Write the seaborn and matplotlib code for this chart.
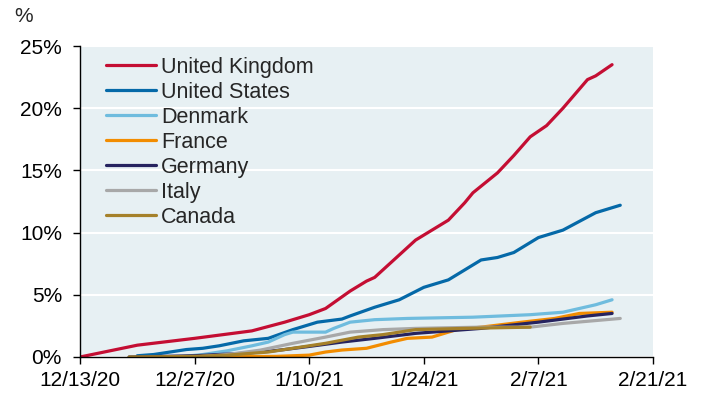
import matplotlib
matplotlib.use("Agg")
import matplotlib.pyplot as plt
import matplotlib.ticker as mticker
import seaborn as sns
import pandas as pd

# values (% of population)
uk_dates = ["2020-12-13", "2020-12-20", "2020-12-27", "2021-01-03", "2021-01-07", "2021-01-10",
            "2021-01-12", "2021-01-15", "2021-01-17", "2021-01-18", "2021-01-20", "2021-01-23",
            "2021-01-24", "2021-01-27", "2021-01-29", "2021-01-30", "2021-02-02", "2021-02-04",
            "2021-02-06", "2021-02-08", "2021-02-10", "2021-02-13", "2021-02-14", "2021-02-16"]
uk_vals = [0.0, 0.95, 1.5, 2.1, 2.8, 3.4, 3.9, 5.3, 6.1, 6.4, 7.6, 9.4,
           9.8, 11.0, 12.4, 13.2, 14.8, 16.2, 17.7, 18.6, 20.0, 22.3, 22.6, 23.5]

us_dates = ["2020-12-20", "2020-12-22", "2020-12-26", "2020-12-28", "2020-12-30", "2021-01-02",
            "2021-01-05", "2021-01-08", "2021-01-11", "2021-01-14", "2021-01-15", "2021-01-18",
            "2021-01-21", "2021-01-24", "2021-01-27", "2021-01-31", "2021-02-02", "2021-02-04",
            "2021-02-07", "2021-02-10", "2021-02-14", "2021-02-17"]
us_vals = [0.1, 0.2, 0.6, 0.7, 0.9, 1.3, 1.5, 2.2, 2.8, 3.05, 3.3, 4.0,
           4.6, 5.6, 6.2, 7.8, 8.0, 8.4, 9.6, 10.2, 11.6, 12.2]

dk_dates = ["2020-12-25", "2020-12-28", "2020-12-31", "2021-01-03", "2021-01-05", "2021-01-07",
            "2021-01-08", "2021-01-12", "2021-01-13", "2021-01-15", "2021-01-18", "2021-01-22",
            "2021-01-30", "2021-02-06", "2021-02-10", "2021-02-12", "2021-02-14", "2021-02-16"]
dk_vals = [0.0, 0.2, 0.5, 0.9, 1.2, 1.8, 2.0, 2.0, 2.3, 2.8, 3.0, 3.1,
           3.2, 3.4, 3.6, 3.9, 4.2, 4.6]

fr_dates = ["2020-12-27", "2021-01-06", "2021-01-10", "2021-01-12", "2021-01-14", "2021-01-17",
            "2021-01-20", "2021-01-22", "2021-01-25", "2021-01-28", "2021-01-31", "2021-02-05",
            "2021-02-09", "2021-02-12", "2021-02-16"]
fr_vals = [0.0, 0.05, 0.15, 0.4, 0.56, 0.7, 1.2, 1.5, 1.6, 2.2, 2.4, 2.8, 3.1, 3.5, 3.6]

de_dates = ["2020-12-19", "2020-12-27", "2021-01-02", "2021-01-05", "2021-01-07", "2021-01-10",
            "2021-01-14", "2021-01-18", "2021-01-23", "2021-01-31", "2021-02-07", "2021-02-13",
            "2021-02-16"]
de_vals = [0.0, 0.1, 0.3, 0.45, 0.6, 0.85, 1.2, 1.5, 1.9, 2.3, 2.8, 3.3, 3.5]

it_dates = ["2020-12-27", "2020-12-31", "2021-01-04", "2021-01-08", "2021-01-12", "2021-01-15",
            "2021-01-19", "2021-01-23", "2021-01-31", "2021-02-06", "2021-02-10", "2021-02-17"]
it_vals = [0.0, 0.2, 0.55, 1.1, 1.6, 2.0, 2.2, 2.3, 2.4, 2.4, 2.7, 3.1]

ca_dates = ["2020-12-19", "2020-12-27", "2020-12-31", "2021-01-05", "2021-01-08", "2021-01-12",
            "2021-01-16", "2021-01-19", "2021-01-23", "2021-01-29", "2021-02-06"]
ca_vals = [0.0, 0.05, 0.15, 0.4, 0.7, 1.1, 1.6, 1.8, 2.2, 2.3, 2.4]

countries = ["United Kingdom", "United States", "Denmark", "France", "Germany", "Italy", "Canada"]
colors = ["#C40E33", "#0569A8", "#6FBCDE", "#F28C00", "#26235F", "#A8A8A8", "#A5812A"]
tick_dates = ["2020-12-13", "2020-12-27", "2021-01-10", "2021-01-24", "2021-02-07", "2021-02-21"]
tick_labels = ["12/13/20", "12/27/20", "1/10/21", "1/24/21", "2/7/21", "2/21/21"]

series = [(uk_dates, uk_vals), (us_dates, us_vals), (dk_dates, dk_vals), (fr_dates, fr_vals),
          (de_dates, de_vals), (it_dates, it_vals), (ca_dates, ca_vals)]
frames = []
for name, (d, v) in zip(countries, series):
    frames.append(pd.DataFrame({"date": pd.to_datetime(d), "value": v, "country": name}))
df = pd.concat(frames, ignore_index=True)

sns.set_style("white")
plt.rcParams["font.family"] = ["Liberation Sans", "DejaVu Sans"]

fig = plt.figure(figsize=(7.03, 4.0), dpi=100)
ax = fig.add_axes([80 / 703, 43 / 400, 573 / 703, 311 / 400])
ax.set_facecolor("#E7F0F3")

sns.lineplot(data=df, x="date", y="value", hue="country", hue_order=countries,
             palette=dict(zip(countries, colors)), linewidth=2.3, ax=ax)

ax.set_xlim(pd.Timestamp(tick_dates[0]), pd.Timestamp(tick_dates[-1]))
ax.set_ylim(0, 25)
ax.set_xticks(pd.to_datetime(tick_dates))
ax.set_xticklabels(tick_labels)
ax.set_yticks([0, 5, 10, 15, 20, 25])
ax.yaxis.set_major_formatter(mticker.FuncFormatter(lambda v, p: f"{v:.0f}%"))
ax.yaxis.grid(True, color="white", linewidth=1.5)
ax.set_axisbelow(True)
ax.set_xlabel("")
ax.set_ylabel("")

for s in ["top", "right"]:
    ax.spines[s].set_visible(False)
for s in ["left", "bottom"]:
    ax.spines[s].set_color("black")
    ax.spines[s].set_linewidth(1.0)
ax.tick_params(axis="both", direction="out", length=5, width=1, colors="black",
               labelsize=15, left=True, bottom=True)
ax.tick_params(axis="y", pad=8)
ax.tick_params(axis="x", pad=5)

handles, labels = ax.get_legend_handles_labels()
ax.legend(handles, labels, loc="upper left", bbox_to_anchor=(26 / 573, 1 - 11 / 311),
          frameon=False, fontsize=15.5, handlelength=2.3, handletextpad=0.25,
          labelspacing=0.185, borderpad=0, borderaxespad=0)

fig.text(14 / 703, 1 - 22 / 400, "%", fontsize=15)

fig.savefig("out.png", dpi=100)
